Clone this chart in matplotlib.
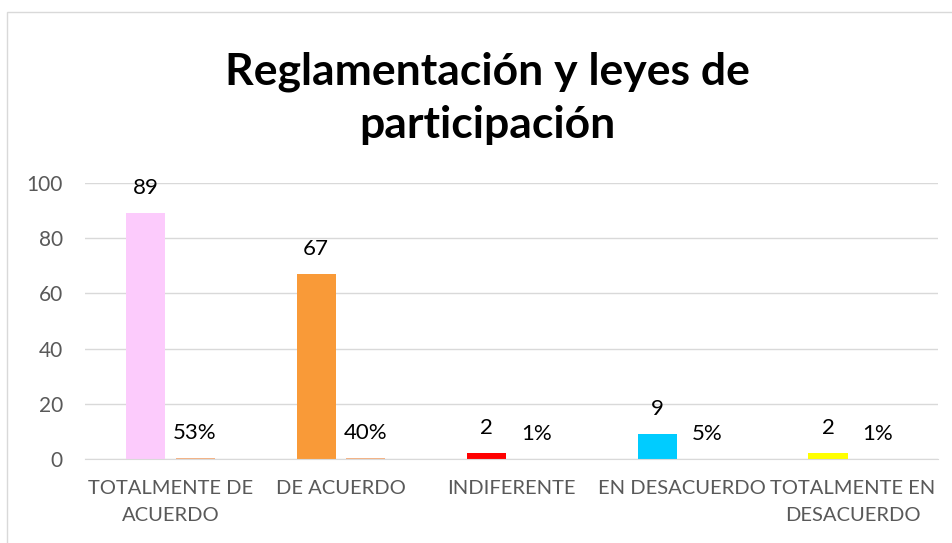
import numpy as np
import matplotlib.pyplot as plt
from matplotlib.patches import Rectangle

categorias = ["TOTALMENTE DE\nACUERDO", "DE ACUERDO", "INDIFERENTE", "EN DESACUERDO", "TOTALMENTE EN\nDESACUERDO"]
frecuencia = [89, 67, 2, 9, 2]
porcentaje = [0.53, 0.40, 0.01, 0.05, 0.01]
etiquetas_pct = ["53%", "40%", "1%", "5%", "1%"]
colores = ["#FCCBFC", "#F99A38", "#FF0000", "#00CCFF", "#FFFF00"]
color_pct = "#F4B183"

plt.rcParams['font.family'] = ['Lato', 'DejaVu Sans']

fig = plt.figure(figsize=(9.52, 5.43), dpi=100)
ax = fig.add_axes([0.0893, 0.1547, 0.896, 0.5083])

x = np.arange(len(categorias))
ancho = 0.229
desp = 0.145
ax.bar(x - desp, frecuencia, ancho, color=colores, zorder=3)
ax.bar(x + desp, porcentaje, ancho, color=color_pct, zorder=3)

for xi, v in zip(x, frecuencia):
    ax.annotate(str(v), (xi - desp, v), xytext=(0, 18), textcoords='offset points',
                ha='center', va='center', fontsize=16, color='black')
for xi, v, t in zip(x, porcentaje, etiquetas_pct):
    ax.annotate(t, (xi + desp, v), xytext=(0, 18), textcoords='offset points',
                ha='center', va='center', fontsize=16, color='black')

ax.set_xlim(-0.5, 4.5)
ax.set_ylim(0, 100)
ax.set_yticks(range(0, 101, 20))
ax.set_xticks(x)
ax.set_xticklabels(categorias, fontsize=14.5, color='#595959', linespacing=1.75)
ax.tick_params(axis='y', labelsize=15, labelcolor='#595959', length=0, pad=16)
ax.tick_params(axis='x', length=0, pad=15)
ax.grid(axis='y', color='#D9D9D9', linewidth=1, zorder=0)
for s in ['top', 'right', 'left']:
    ax.spines[s].set_visible(False)
ax.spines['bottom'].set_color('#D9D9D9')
ax.spines['bottom'].set_zorder(4)

fig.text(487/952, 1 - 98/543, "Reglamentación y leyes de\nparticipación", ha='center', va='center',
         fontsize=32, fontweight='bold', linespacing=1.4)

fig.patches.append(Rectangle((7/952, -0.1), 1.2, 1 - 12/543 + 0.1, transform=fig.transFigure,
                             fill=False, edgecolor='#D9D9D9', linewidth=1))

fig.savefig("out.png", dpi=100)
